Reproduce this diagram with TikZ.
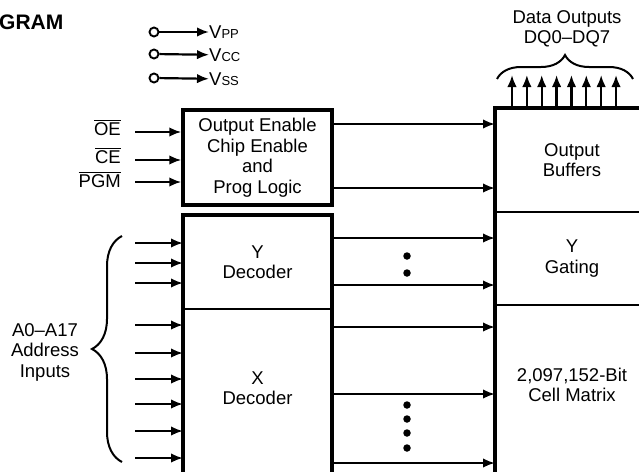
\documentclass[tikz,border=0pt]{standalone}
\usepackage{fontspec}
\setmainfont{Liberation Sans}
\usetikzlibrary{arrows.meta,positioning,calc,decorations.pathreplacing}
\newcommand{\subsz}[1]{{\fontsize{13}{13}\selectfont #1}}

\begin{document}
\begin{tikzpicture}[
  x=1pt, y=-1pt,
  font=\fontsize{18.5}{20.5}\selectfont,
  sig/.style={-{Latex[length=12pt,width=9.5pt]}, line width=2.2pt},
  frame/.style={line width=3.4pt},
  cell/.style={draw, line width=2pt, inner sep=0pt, outer sep=0pt, minimum width=149, align=center},
  bank/.style={draw, line width=2pt, inner sep=0pt, outer sep=0pt, minimum width=154, align=center},
  txt/.style={align=center, inner sep=0pt},
  pwr/.style={circle, draw, line width=1.9pt, minimum size=9, inner sep=0pt},
  pinlabel/.style={anchor=base east, inner sep=0pt},
  dot/.style={circle, fill, inner sep=0pt, minimum size=7.5},
  curly/.style={decorate, decoration={brace, amplitude=#1}, line width=2pt}
]
\useasboundingbox (0,0) rectangle (639,471);
\clip (0,0) rectangle (639,471);

\node[font=\fontsize{21}{21}\selectfont\bfseries, anchor=base west, inner sep=0pt] (title) at (-1,29) {GRAM};

% supply pins
\node[pwr] (pinpp) at (154,32) {};
\node[pwr] (pincc) at (154,54) {};
\node[pwr] (pinss) at (154,78) {};
\node[anchor=west, inner sep=0pt] (vpp) at (209,32) {V\subsz{PP}};
\node[anchor=west, inner sep=0pt] (vcc) at (209,55) {V\subsz{CC}};
\node[anchor=west, inner sep=0pt] (vss) at (209,79) {V\subsz{SS}};
\draw[sig] (pinpp) -- (vpp);
\draw[sig] (pincc) -- (vcc);
\draw[sig] (pinss) -- (vss);

% blocks
\node[draw, frame, inner sep=0pt, minimum width=149, minimum height=95, align=center] (ctrl) at (257.5,157.5)
  {Output Enable\\Chip Enable\\and\\Prog Logic};
\node[cell, minimum height=94] (ydec) at (257.5,262) {Y\\Decoder};
\node[cell, minimum height=250, below=0pt of ydec] (xdec) {};
\node[txt] (xdectxt) at ($(xdec.north)+(0,79)$) {X\\Decoder};

\node[bank, minimum height=104] (outbuf) at (572,160) {Output\\Buffers};
\node[bank, minimum height=93, below=0pt of outbuf] (ygate) {Y\\Gating};
\node[bank, minimum height=250, below=0pt of ygate] (cellmat) {};
\node[txt] (celltxt) at ($(cellmat.north)+(0,80)$) {2,097,152-Bit\\Cell Matrix};

\draw[frame] (ydec.north west) rectangle (xdec.south east);
\draw[frame] (outbuf.north west) rectangle (cellmat.south east);

% control inputs
\node[pinlabel] (oe) at (121,135) {$\overline{\hbox{OE}}$};
\node[pinlabel] (ce) at (121,163) {$\overline{\hbox{CE}}$};
\node[pinlabel] (pgm) at (121,187) {$\overline{\hbox{PGM}}$};
\coordinate (oein) at (135,132);
\coordinate (cein) at (135,160);
\coordinate (pgmin) at (135,182);
\draw[sig] (oein) -- (ctrl.west |- oein);
\draw[sig] (cein) -- (ctrl.west |- cein);
\draw[sig] (pgmin) -- (ctrl.west |- pgmin);

% address inputs
\foreach \y in {243,263,283,325,353,379,404,431,458} {
  \coordinate (addr) at (135,\y);
  \draw[sig] (addr) -- (ydec.west |- addr);
}
\draw[curly=30] (122,462) -- (122,236);
\node[txt] (addrtxt) at (45,352) {A0–A17\\Address\\Inputs};

% internal buses
\foreach \y in {124,188} {
  \coordinate (row) at (0,\y);
  \draw[sig] (ctrl.east |- row) -- (outbuf.west |- row);
}
\foreach \y in {238,285} {
  \coordinate (row) at (0,\y);
  \draw[sig] (ydec.east |- row) -- (ygate.west |- row);
}
\foreach \y in {327,394,463} {
  \coordinate (row) at (0,\y);
  \draw[sig] (xdec.east |- row) -- (cellmat.west |- row);
}
\foreach \y in {256,273,405,419,433,448}
  \node[dot] (dot\y) at (407,\y) {};

% data outputs
\foreach \i in {0,...,7}
  \draw[sig] ($(outbuf.north west)+(17+14.86*\i,0)$) -- ++(0,-33);
\draw[curly=24] (497,79) -- (633,79);
\node[txt] (dqtxt) at (567,29) {Data Outputs\\DQ0–DQ7};

\end{tikzpicture}
\end{document}
